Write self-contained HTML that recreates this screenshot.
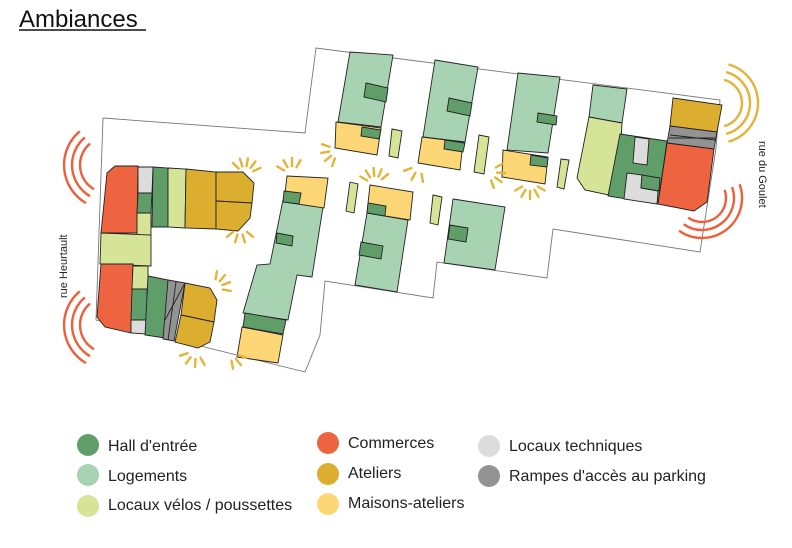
<!DOCTYPE html>
<html><head><meta charset="utf-8"><style>
body{margin:0;background:#fff;width:792px;height:548px;overflow:hidden;font-family:"Liberation Sans",sans-serif}
svg{position:absolute;left:0;top:0}
</style></head><body>
<svg width="792" height="548" viewBox="0 0 792 548" xmlns="http://www.w3.org/2000/svg">
<text x="19" y="27" font-size="24" fill="#111" font-family="Liberation Sans, sans-serif">Ambiances</text>
<line x1="19" y1="30" x2="146" y2="30" stroke="#111" stroke-width="1.5"/>
<polyline fill="none" stroke="#777" stroke-width="0.9" points="103,118 305,133 316,48 720,100 716,148 700,252 553,229 547,278 437,262 433,298 325,281 320,335 305,372 96,320 103,118"/>
<g stroke="#222" stroke-width="0.9">
<polygon fill="#ef6440" points="107,173 115,166 138,166 137,233 101,233"/>
<polygon fill="#dcdcdc" points="138,167 153,167 152,193 138,193"/>
<polygon fill="#5f9e68" points="138,193 152,193 151,213 137,213"/>
<polygon fill="#d6e497" points="137,213 151,213 151,235 137,235"/>
<polygon fill="#5f9e68" points="153,167 168,168 168,227 152,227"/>
<polygon fill="#d6e497" points="168,168 186,169 185,228 168,227"/>
<polygon fill="#dcae2f" points="186,169 216,172 216,229 185,228"/>
<polygon fill="#dcae2f" points="216,172 243,172 254,183 252,203 216,201"/>
<polygon fill="#dcae2f" points="216,201 252,203 250,218 238,231 216,229"/>
<polygon fill="#d6e497" points="101,233 151,235 151,266 100,264"/>
<polygon fill="#ef6440" points="101,264 133,264 131,333 105,327 97,317"/>
<polygon fill="#d6e497" points="133,266 148,266 148,289 132,289"/>
<polygon fill="#5f9e68" points="132,289 147,289 147,320 131,320"/>
<polygon fill="#dcdcdc" points="131,320 146,320 146,334 131,333"/>
<polygon fill="#5f9e68" points="148,276 168,280 165,338 145,335"/>
<polygon fill="#939393" points="168,280 185,283 174,341 163,339"/>
<line x1="176" y1="282" x2="168" y2="340"/><line x1="185" y1="283" x2="165" y2="320"/>
<polygon fill="#dcae2f" points="185,283 210,288 217,300 214,322 181,315"/>
<polygon fill="#dcae2f" points="181,315 214,322 210,342 198,348 175,342"/>
<polygon fill="#a8d3b3" points="283,200 323,207 312,277 297,275 288,320 243,313 257,265 270,264"/>
<polygon fill="#fdd675" points="287,176 328,178 324,208 284,202"/>
<polygon fill="#5f9e68" points="284,191 301,193 299,204 283,202"/>
<polygon fill="#5f9e68" points="277,233 293,236 292,246 276,243"/>
<polygon fill="#5f9e68" points="245,313 286,320 283,334 243,327"/>
<polygon fill="#fdd675" points="242,327 283,335 278,363 237,357"/>
<polygon fill="#a8d3b3" points="350,52 393,55 381,127 338,122"/>
<polygon fill="#fdd675" points="336,122 381,128 377,155 335,148"/>
<polygon fill="#5f9e68" points="366,83 388,88 386,102 364,97"/>
<polygon fill="#5f9e68" points="362,127 381,130 379,139 361,136"/>
<polygon fill="#d6e497" points="392,129 402,131 398,158 389,156"/>
<polygon fill="#a8d3b3" points="435,60 478,67 465,142 423,137"/>
<polygon fill="#fdd675" points="422,137 463,142 460,170 418,163"/>
<polygon fill="#5f9e68" points="449,98 472,103 470,116 447,111"/>
<polygon fill="#5f9e68" points="445,140 465,143 463,152 444,149"/>
<polygon fill="#d6e497" points="479,135 489,137 484,174 474,172"/>
<polygon fill="#a8d3b3" points="518,73 560,77 548,153 507,150"/>
<polygon fill="#fdd675" points="503,150 548,157 545,184 502,177"/>
<polygon fill="#5f9e68" points="538,113 557,116 556,125 537,122"/>
<polygon fill="#5f9e68" points="531,155 548,158 547,167 530,165"/>
<polygon fill="#d6e497" points="561,159 569,160 564,189 557,187"/>
<polygon fill="#d6e497" points="350,182 358,184 354,213 346,211"/>
<polygon fill="#a8d3b3" points="367,213 408,220 397,292 355,285"/>
<polygon fill="#fdd675" points="370,185 413,192 410,220 367,213"/>
<polygon fill="#5f9e68" points="368,203 386,206 385,216 367,213"/>
<polygon fill="#5f9e68" points="361,242 383,246 381,259 359,255"/>
<polygon fill="#d6e497" points="433,195 442,197 438,225 430,223"/>
<polygon fill="#a8d3b3" points="453,199 505,207 495,270 444,263"/>
<polygon fill="#5f9e68" points="450,225 468,228 466,242 448,239"/>
<polygon fill="#a8d3b3" points="593,85 627,89 622,123 589,117"/>
<polygon fill="#d6e497" points="589,117 622,123 618,197 585,190 577,178"/>
<polygon fill="#5f9e68" points="620,134 667,141 658,204 608,196"/>
<polygon fill="#dcdcdc" points="635,137 649,139 647,165 633,163"/>
<polygon fill="#dcdcdc" points="627,173 642,175 641,188 658,191 657,204 624,199"/>
<polygon fill="#5f9e68" points="642,175 660,178 659,191 641,188"/>
<polygon fill="#dcae2f" points="673,98 722,105 717,132 670,126"/>
<polygon fill="#939393" points="670,126 717,132 714,149 667,143"/>
<line x1="670" y1="135" x2="716" y2="140"/><line x1="669" y1="138" x2="716" y2="138"/>
<polygon fill="#ef6440" points="667,143 714,149 707,202 694,211 658,204"/>
</g>
<g id="arcs" fill="none" stroke-width="2.4"></g>
<g id="rays" stroke="#e2b43a" stroke-width="2.4" stroke-linecap="round"></g>
<text transform="translate(67,298) rotate(-90)" font-size="11" fill="#222">rue Heurtault</text>
<text transform="translate(759,141) rotate(90)" font-size="11" fill="#222">rue du Goulet</text>
<g font-size="16" fill="#222">
<circle cx="88" cy="445" r="11" fill="#5f9e68"/><text x="108" y="451">Hall d'entrée</text>
<circle cx="88" cy="475" r="11" fill="#a8d3b3"/><text x="108" y="481">Logements</text>
<circle cx="88" cy="506" r="11" fill="#d6e497"/><text x="108" y="510">Locaux vélos / poussettes</text>
<circle cx="328" cy="443" r="11" fill="#ef6440"/><text x="348" y="448">Commerces</text>
<circle cx="328" cy="474" r="11" fill="#dcae2f"/><text x="348" y="478">Ateliers</text>
<circle cx="328" cy="504" r="11" fill="#fdd675"/><text x="348" y="508">Maisons-ateliers</text>
<circle cx="489" cy="446" r="11" fill="#dcdcdc"/><text x="509" y="451">Locaux techniques</text>
<circle cx="489" cy="476" r="11" fill="#939393"/><text x="509" y="481">Rampes d'accès au parking</text>
</g>
</svg>
<script>
var NS="http://www.w3.org/2000/svg";
function arc(cx,cy,r,a1,a2,col){var p=document.createElementNS(NS,"path");var t=Math.PI/180;
var x1=cx+r*Math.cos(a1*t),y1=cy+r*Math.sin(a1*t),x2=cx+r*Math.cos(a2*t),y2=cy+r*Math.sin(a2*t);
p.setAttribute("d","M"+x1+","+y1+" A"+r+","+r+" 0 0 1 "+x2+","+y2);p.setAttribute("stroke",col);document.getElementById("arcs").appendChild(p);}
[[108,165,-240,-130,"#ee5f3a",[28,36,44]],[108,325,120,230,"#ee5f3a",[28,36,44]],[718,103,-75,75,"#e2b43a",[24,32,40]],[702,198,-20,125,"#ee5f3a",[24,32,40]]].forEach(function(a){
a[5].forEach(function(r){arc(a[0],a[1],r,a[2],a[3],a[4]);});});
function rays(cx,cy,a1,a2,n){for(var i=0;i<n;i++){var a=(a1+(a2-a1)*i/(n-1))*Math.PI/180;var l=document.createElementNS(NS,"line");
l.setAttribute("x1",cx+9*Math.cos(a));l.setAttribute("y1",cy+9*Math.sin(a));l.setAttribute("x2",cx+17*Math.cos(a));l.setAttribute("y2",cy+17*Math.sin(a));
document.getElementById("rays").appendChild(l);}}
rays(245,175,-135,-25,5);rays(240,226,40,140,4);rays(214,288,-80,10,4);rays(196,350,60,160,4);rays(230,352,20,80,3);
rays(292,175,-150,-60,4);rays(338,150,110,200,4);rays(375,185,-150,-40,5);rays(420,165,80,160,3);
rays(488,172,-30,70,4);rays(530,182,30,150,5);
</script>
</body></html>
